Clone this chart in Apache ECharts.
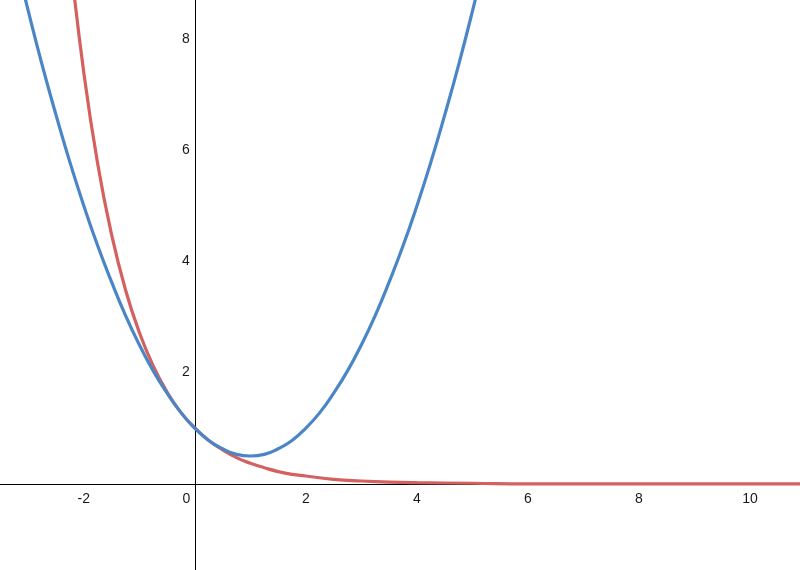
<!DOCTYPE html>
<html>
<head>
<meta charset="utf-8">
<script src="https://cdn.jsdelivr.net/npm/echarts@6/dist/echarts.min.js"></script>
<style>html,body{margin:0;padding:0;background:#fff}#c{width:800px;height:570px}</style>
</head>
<body>
<div id="c"></div>
<script>
// Red curve (x, y)
const redX = [-2.5, -2.25, -2, -1.75, -1.5, -1.25, -1, -0.75, -0.5, -0.25, 0, 0.25, 0.5, 0.75, 1, 1.25, 1.5, 1.75, 2, 2.5, 3, 3.5, 4, 5, 6, 8, 11];
const redY = [12.18, 9.49, 7.39, 5.75, 4.48, 3.49, 2.72, 2.12, 1.65, 1.28, 1, 0.78, 0.61, 0.47, 0.37, 0.29, 0.22, 0.17, 0.14, 0.08, 0.05, 0.03, 0.02, 0.01, 0.0, 0.0, 0.0];
// Blue curve (x, y)
const blueX = [-3.6, -3.4, -3.2, -3, -2.75, -2.5, -2.25, -2, -1.75, -1.5, -1.25, -1, -0.75, -0.5, -0.25, 0, 0.25, 0.5, 0.75, 1, 1.25, 1.5, 1.75, 2, 2.25, 2.5, 2.75, 3, 3.25, 3.5, 3.75, 4, 4.25, 4.5, 4.75, 5, 5.25, 5.5];
const blueY = [11.08, 10.18, 9.32, 8.5, 7.53, 6.63, 5.78, 5, 4.28, 3.63, 3.03, 2.5, 2.03, 1.63, 1.28, 1, 0.78, 0.63, 0.53, 0.5, 0.53, 0.63, 0.78, 1, 1.28, 1.63, 2.03, 2.5, 3.03, 3.63, 4.28, 5, 5.78, 6.63, 7.53, 8.5, 9.53, 10.63];
// Tick labels
const xTicks = [-2, 0, 2, 4, 6, 8, 10];
const yTicks = [2, 4, 6, 8];

const W = 800, H = 570;
const xMin = -3.51, xMax = 10.9, yMin = -1.55, yMax = 8.7;
// place the axes through the origin
const xOff = -H * (0 - yMin) / (yMax - yMin);
const yOff = -W * (0 - xMin) / (xMax - xMin);

const zip = (xs, ys) => xs.map((x, i) => [x, ys[i]]);
const chart = echarts.init(document.getElementById('c'));
const labelFont = { fontFamily: 'Liberation Sans, Arial, sans-serif', fontSize: 14, color: '#1a1a1a' };
chart.setOption({
  animation: false,
  grid: { left: 0, right: 0, top: 0, bottom: 0, containLabel: false, outerBoundsMode: 'none' },
  xAxis: {
    type: 'value', min: xMin, max: xMax, position: 'bottom', offset: xOff,
    axisLine: { onZero: false, lineStyle: { color: '#000', width: 1 } },
    axisTick: { show: false },
    splitLine: { show: false },
    axisLabel: Object.assign({}, labelFont, {
      customValues: xTicks, margin: 8,
      formatter: v => v === 0 ? '{z|0}' : String(v),
      rich: { z: Object.assign({}, labelFont, { padding: [0, 17, 0, 0] }) }
    })
  },
  yAxis: {
    type: 'value', min: yMin, max: yMax, position: 'left', offset: yOff,
    axisLine: { onZero: false, lineStyle: { color: '#000', width: 1 } },
    axisTick: { show: false },
    splitLine: { show: false },
    axisLabel: Object.assign({}, labelFont, { customValues: yTicks, margin: 5 })
  },
  series: [
    { type: 'line', data: zip(redX, redY), smooth: true, showSymbol: false,
      lineStyle: { color: '#d46060', width: 3.2 }, clip: true },
    { type: 'line', data: zip(blueX, blueY), smooth: true, showSymbol: false,
      lineStyle: { color: '#4a86c6', width: 3.2 }, clip: true }
  ]
});
</script>
</body>
</html>
